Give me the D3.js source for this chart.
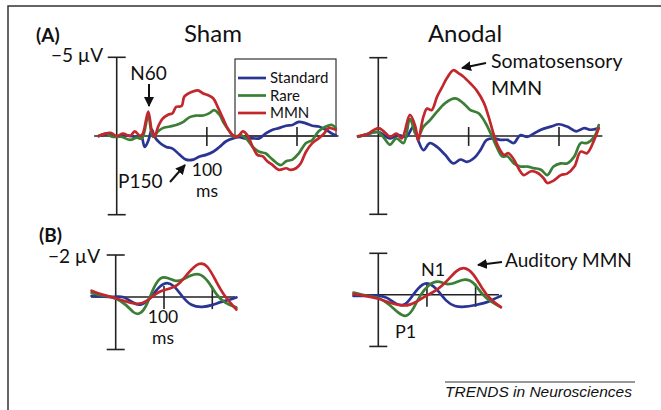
<!DOCTYPE html>
<html>
<head>
<meta charset="utf-8">
<script src="https://cdn.jsdelivr.net/npm/d3@7"></script>
<style>
  body { margin: 0; background: #fff; }
  svg { display: block; }
  .zero, .vaxis, .tick { stroke: #222; stroke-width: 1.6; fill: none; }
  .erp { fill: none; stroke-width: 2.7; stroke-linejoin: round; stroke-linecap: round; }
  text { font-family: Lato, "Open Sans", sans-serif; fill: #111; }
</style>
</head>
<body>
<script>
// ERP waveforms, [time ms, microvolt] (negative up)
var ticksMs = [100, 200];

var shamAStd = [[-20,0],[-10,-0.1],[0,0.05],[10,-0.05],[20,0.05],[27,0],[31,0.7],[35,0.3],[39,-0.4],[42,0.05],[48,0.45],[55,0.7],[62,0.8],[70,1.2],[77,1.5],[85,1.5],[92,1.3],[99,1.2],[107,1.0],[114,0.7],[121,0.35],[129,0.15],[136,0.08],[143,0.15],[151,0.15],[158,0.15],[165,-0.15],[173,-0.4],[180,-0.5],[188,-0.65],[195,-0.7],[202,-0.9],[210,-0.8],[217,-0.65],[224,-0.6],[232,-0.4],[239,-0.15],[243,-0.05]];
var shamARare = [[-20,0],[-12,-0.15],[-5,0.05],[5,0.05],[15,0.25],[22,0.1],[28,0.15],[35,-1.3],[40,0.05],[46,-0.3],[51,-0.5],[59,-0.6],[66,-0.7],[74,-0.9],[81,-1.2],[88,-1.3],[96,-1.3],[103,-1.45],[108,-1.65],[114,-1.35],[119,-0.8],[125,-0.3],[130,0.05],[138,-0.05],[145,0.25],[151,0.7],[158,1.0],[165,1.1],[173,1.5],[182,1.85],[188,1.6],[195,1.5],[202,1.1],[210,0.45],[217,0.25],[224,-0.3],[232,-0.6],[239,-0.7],[243,-0.5]];
var shamAMMN = [[-20,0],[-7,-0.2],[0,0],[7,-0.15],[15,0],[20,-0.3],[26,0],[29,-0.15],[35,-1.55],[39,-0.3],[42,0.05],[46,-0.6],[51,-1.1],[57,-1.35],[62,-1.45],[66,-1.85],[72,-1.9],[75,-2.5],[83,-2.8],[90,-2.9],[96,-2.7],[101,-2.6],[107,-2.4],[112,-1.85],[118,-1.1],[123,-0.5],[129,-0.05],[134,0.05],[140,-0.3],[145,-0.05],[151,0.7],[156,1.2],[162,1.3],[167,1.6],[173,1.85],[180,2.15],[188,2.05],[193,2.15],[199,2.05],[204,1.75],[210,1.0],[217,0.45],[224,0.15],[230,-0.15],[235,-0.5],[243,-0.4]];

var anodAStd = [[-22,0.05],[-13,-0.1],[0,-0.25],[13,0.15],[22,-0.05],[31,0.05],[39,-0.6],[44,0.25],[50,0.9],[57,0.45],[65,0.7],[74,1.2],[83,1.75],[91,1.5],[98,1.65],[106,1.4],[113,0.9],[120,0.25],[128,0.15],[135,0.25],[143,0.25],[150,0.45],[157,-0.05],[165,0.05],[172,-0.15],[180,-0.4],[191,-0.6],[200,-0.75],[209,-0.6],[219,-0.3],[228,-0.5],[235,-0.4],[244,-0.5]];
var anodARare = [[-22,0.05],[-13,-0.1],[0,-0.25],[6,0.1],[13,0.55],[20,0.15],[28,0.45],[35,-1.1],[41,-0.15],[44,0.05],[50,-0.6],[57,-1.0],[65,-1.55],[74,-2.1],[85,-2.4],[94,-2.1],[102,-1.65],[111,-1.45],[119,-0.8],[126,0.05],[131,0.7],[137,1.3],[143,1.3],[150,1.75],[157,1.95],[165,1.95],[172,2.05],[180,2.15],[187,2.5],[194,1.95],[202,1.75],[209,1.75],[217,1.3],[224,0.45],[231,0.45],[239,0.05],[244,-0.7]];
var anodAMMN = [[-22,0],[-13,-0.1],[0,-0.5],[6,-0.3],[13,0.05],[20,-0.15],[26,0.15],[35,-1.35],[41,-0.6],[44,0.25],[50,-1.25],[54,-1.75],[59,-1.65],[65,-2.5],[70,-3.05],[76,-3.7],[83,-4.2],[89,-4.0],[94,-3.8],[102,-3.35],[109,-2.9],[117,-2.1],[122,-1.25],[128,-0.05],[133,0.7],[139,1.2],[144,1.1],[150,1.5],[156,2.15],[161,2.5],[169,2.25],[176,2.35],[183,2.7],[187,3.0],[194,2.85],[202,2.5],[209,2.4],[217,1.95],[224,1.0],[231,1.1],[239,0.25],[244,-0.5]];

var shamBStd = [[-50,-0.05],[-26,-0.02],[0,0],[16,-0.05],[37,0.3],[51,0.43],[69,0.14],[86,-0.4],[103,-0.73],[121,-0.57],[138,0],[156,0.43],[180,0.5],[201,0.38],[219,0.22],[236,0.14],[250,0.02]];
var shamBRare = [[-50,-0.2],[-26,-0.05],[0,0.02],[23,0.38],[37,0.78],[51,0.85],[65,0.38],[79,-0.5],[93,-0.97],[107,-0.93],[124,-0.73],[138,-0.8],[156,-1.05],[173,-1.15],[191,-0.8],[208,-0.1],[226,0.3],[250,0.5]];
var shamBMMN = [[-50,-0.3],[-26,-0.1],[0,0.06],[23,0.22],[44,0.38],[65,0.22],[86,-0.25],[107,-0.37],[128,-0.5],[149,-1.13],[173,-1.7],[191,-1.5],[208,-0.73],[226,0],[250,0.6]];

var anodBStd = [[-51,0.06],[-24,0.06],[0,0.02],[17,0.1],[38,0.5],[56,0.55],[73,-0.06],[91,-0.55],[105,-0.58],[122,-0.23],[140,0.34],[157,0.58],[178,0.6],[199,0.5],[217,0.42],[234,0.26],[252,0.06]];
var anodBRare = [[-51,-0.1],[-24,0.06],[0,0.1],[24,0.5],[42,0.9],[56,1.1],[70,0.82],[87,-0.05],[105,-0.52],[122,-0.7],[140,-0.47],[157,-0.55],[178,-0.8],[196,-0.63],[213,0],[231,0.34],[252,0.6]];
var anodBMMN = [[-51,-0.03],[-24,0.06],[0,0.18],[24,0.4],[49,0.55],[66,0.5],[84,0.26],[101,0.02],[122,-0.23],[143,-0.7],[161,-1.2],[178,-1.35],[196,-1.03],[213,-0.3],[231,0.26],[252,0.6]];

var seriesNames = ["Standard", "Rare", "MMN"];
var colors = ["#2a3593", "#3a7f35", "#c1272d"];

var w = 661, h = 410;
var svg = d3.select("body").append("svg").attr("width", w).attr("height", h);

svg.append("defs").append("marker")
  .attr("id", "arr").attr("viewBox", "0 0 10 10")
  .attr("refX", 9).attr("refY", 5)
  .attr("markerWidth", 5).attr("markerHeight", 5)
  .attr("markerUnits", "strokeWidth")
  .attr("orient", "auto")
  .append("path").attr("d", "M0,0 L10,5 L0,10 z").attr("fill", "#111");

// frame
svg.append("path").attr("d", "M8,410 L8,6 L661,6")
  .attr("fill", "none").attr("stroke", "#333").attr("stroke-width", 1.5);

function panel(o) {
  var x = d3.scaleLinear().domain([0, 200]).range([o.x0, o.x200]);
  var y = d3.scaleLinear().domain([-o.top, 0]).range([o.yTop, o.yZero]);
  var g = svg.append("g");

  g.append("line").attr("class", "zero")
    .attr("x1", x(o.t0)).attr("x2", x(o.t1)).attr("y1", y(0)).attr("y2", y(0));
  g.append("line").attr("class", "vaxis")
    .attr("x1", x(0)).attr("x2", x(0)).attr("y1", y(-o.top)).attr("y2", y(o.bottom));
  [-o.top, o.bottom].forEach(function(v) {
    g.append("line").attr("class", "vaxis")
      .attr("x1", x(0) - 9).attr("x2", x(0) + 9).attr("y1", y(v)).attr("y2", y(v));
  });
  ticksMs.forEach(function(t) {
    g.append("line").attr("class", "tick")
      .attr("x1", x(t)).attr("x2", x(t)).attr("y1", y(0) - o.tk).attr("y2", y(0) + o.tk * 1.1);
  });

  if (o.legend) o.legend(g);

  var line = d3.line()
    .x(function(d) { return x(d[0]); })
    .y(function(d) { return y(d[1]); })
    .curve(o.smooth ? d3.curveBasis : d3.curveCatmullRom.alpha(0.5));
  o.data.forEach(function(s, i) {
    g.append("path").datum(s).attr("class", "erp")
      .attr("stroke", colors[i]).attr("d", line);
  });
  return { x: x, y: y };
}

var pA1 = panel({ x0: 116.7, x200: 297, yTop: 57.3, yZero: 136, top: 5, bottom: 5, t0: -25, t1: 246, tk: 9,
  data: [shamAStd, shamARare, shamAMMN],
  legend: function(g) {
    g.append("rect").attr("x", 235).attr("y", 59).attr("width", 101).attr("height", 77)
      .attr("fill", "none").attr("stroke", "#333").attr("stroke-width", 1.2);
    seriesNames.forEach(function(n, i) {
      var yy = 78 + i * 17.5;
      g.append("line").attr("x1", 238).attr("x2", 266).attr("y1", yy).attr("y2", yy)
        .attr("stroke", colors[i]).attr("stroke-width", 2.7);
      g.append("text").attr("x", 270).attr("y", yy + 5).attr("font-size", 15).text(n);
    });
  }
});
var pA2 = panel({ x0: 378.3, x200: 559, yTop: 57.7, yZero: 136, top: 5, bottom: 5, t0: -24, t1: 248, tk: 9,
  data: [anodAStd, anodARare, anodAMMN] });
var pB1 = panel({ x0: 115.7, x200: 212.3, yTop: 255, yZero: 297, top: 2, bottom: 2.5, t0: -51, t1: 247, tk: 11, smooth: true,
  data: [shamBStd, shamBRare, shamBMMN] });
var pB2 = panel({ x0: 378.3, x200: 475.6, yTop: 253.3, yZero: 294.7, top: 2, bottom: 2.5, t0: -50, t1: 248, tk: 11, smooth: true,
  data: [anodBStd, anodBRare, anodBMMN] });

function label(x, y, s, size, extra) {
  var t = svg.append("text").attr("x", x).attr("y", y).attr("font-size", size).text(s);
  if (extra) extra(t);
  return t;
}
function arrow(x1, y1, x2, y2) {
  svg.append("line").attr("x1", x1).attr("y1", y1).attr("x2", x2).attr("y2", y2)
    .attr("stroke", "#111").attr("stroke-width", 2).attr("marker-end", "url(#arr)");
}
function mid(t) { t.attr("text-anchor", "middle"); }

label(36, 42, "(A)", 19, function(t) { t.attr("font-weight", "bold"); });
label(39, 242, "(B)", 19, function(t) { t.attr("font-weight", "bold"); });
label(213, 42, "Sham", 24, mid);
label(465, 42, "Anodal", 24, mid);
label(103, 62, "\u22125 \u00b5V", 19, function(t) { t.attr("text-anchor", "end"); });
label(100, 263, "\u22122 \u00b5V", 19, function(t) { t.attr("text-anchor", "end"); });

label(148.5, 80, "N60", 19, mid);
arrow(149, 84, 149, 106);
label(118, 188, "P150", 19);
arrow(170, 182, 185, 165);
label(207, 175.5, "100", 17.5, mid);
label(207, 196.5, "ms", 17.5, mid);

label(491, 68, "Somatosensory", 19.5);
label(491, 95, "MMN", 19.5);
arrow(486, 63, 462, 68);

label(163, 322.5, "100", 17.5, mid);
label(163, 343.5, "ms", 17.5, mid);

label(421, 276, "N1", 18);
label(395, 338, "P1", 18);
label(505, 267, "Auditory MMN", 19);
arrow(502, 262, 478, 265);

svg.append("line").attr("x1", 445).attr("x2", 635).attr("y1", 382).attr("y2", 382)
  .attr("stroke", "#333").attr("stroke-width", 1);
label(445, 397, "TRENDS in Neurosciences", 15.5, function(t) {
  t.attr("font-style", "italic").style("font-family", "'Liberation Sans', Arial, sans-serif");
});
</script>
</body>
</html>
